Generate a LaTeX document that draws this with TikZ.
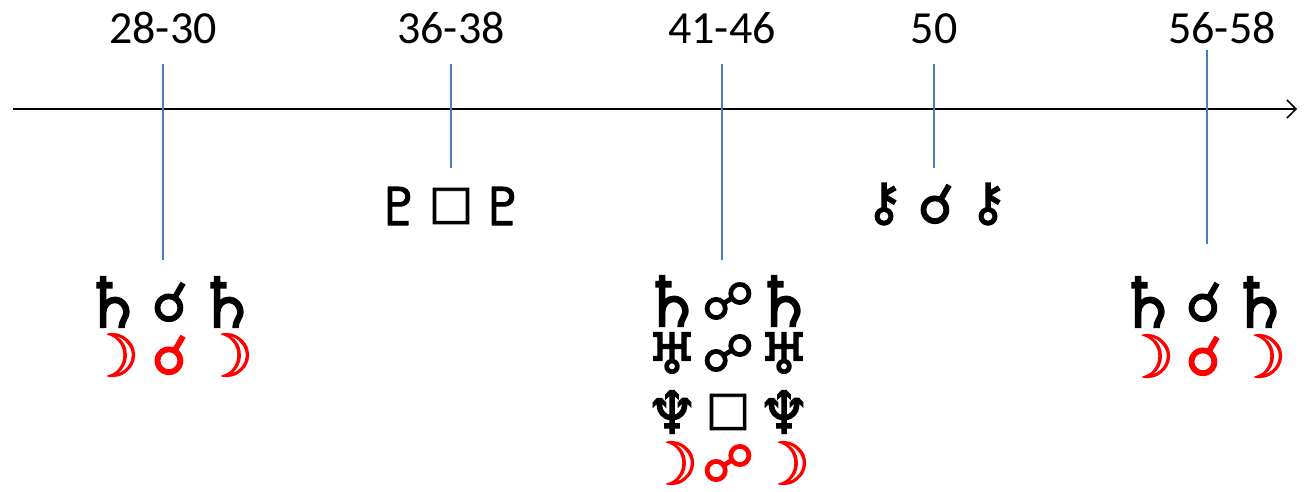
\documentclass[tikz,border=0pt]{standalone}
\usepackage{fontspec}
\usepackage{graphicx}
\setmainfont{Carlito}
\newfontfamily\symf[FakeBold=2]{DejaVu Sans}
\usetikzlibrary{arrows.meta}
\definecolor{tickblue}{HTML}{4A7EBB}
\newcommand{\gl}[2]{$\vcenter{\hbox{\resizebox{!}{#1pt}{\symf #2}}}$}
\newcommand{\glyphrow}[4]{\makebox[#1pt]{#2}\makebox[#1pt]{#3}\makebox[#1pt]{#4}}
\newcommand{\gSat}{\gl{51}{♄}}
\newcommand{\gConj}{\gl{39}{☌}}
\newcommand{\gOppo}{\gl{37}{☍}}
\newcommand{\gMoon}{\gl{43}{☽}}
\newcommand{\gUra}{\gl{41}{♅}}
\newcommand{\gNep}{\gl{43}{♆}}
\newcommand{\gPlu}{\gl{38}{♇}}
\newcommand{\gSqr}{\gl{30}{□}}
\newcommand{\gChir}{\gl{37}{⚷}}
\tikzset{
  axisline/.style={line width=1.6pt, -{Straight Barb[length=9pt,width=18pt,line width=1.6pt]}},
  tick/.style={draw=tickblue, line width=1.3pt},
  agelabel/.style={font=\fontsize{46}{50}\selectfont, inner sep=0pt, anchor=base},
  symrow/.style={inner sep=0pt},
  moonrow/.style={symrow, text=red},
}
\begin{document}
\begin{tikzpicture}[x=1pt,y=-1pt]
\useasboundingbox (0,0) rectangle (1305,491);
% axis
\coordinate (a0) at (13,109);
\coordinate (a1) at (1297,109);
\draw[axisline] (a0) -- (a1);
% ticks
\coordinate (t1a) at (163,64);  \coordinate (t1b) at (163,260);
\coordinate (t2a) at (451,64);  \coordinate (t2b) at (451,168);
\coordinate (t3a) at (722,64);  \coordinate (t3b) at (722,260);
\coordinate (t4a) at (934,64);  \coordinate (t4b) at (934,168);
\coordinate (t5a) at (1207,50); \coordinate (t5b) at (1207,244);
\draw[tick] (t1a) -- (t1b);
\draw[tick] (t2a) -- (t2b);
\draw[tick] (t3a) -- (t3b);
\draw[tick] (t4a) -- (t4b);
\draw[tick] (t5a) -- (t5b);
% age labels
\node[agelabel] (l1) at (163,43) {28-30};
\node[agelabel] (l2) at (451,43) {36-38};
\node[agelabel] (l3) at (722,43) {41-46};
\node[agelabel] (l4) at (934,43) {50};
\node[agelabel] (l5) at (1222,43) {56-58};
% 28-30
\node[symrow] (r1a) at (170,302) {\glyphrow{57}{\gSat}{\gConj}{\gSat}};
\node[moonrow] (r1b) at (170,355) {\glyphrow{57}{\gMoon}{\gConj}{\gMoon}};
% 36-38
\node[symrow] (r2a) at (451,206) {\glyphrow{52}{\gPlu}{\gSqr}{\gPlu}};
% 41-46
\node[symrow] (r3a) at (728,301) {\glyphrow{56}{\gSat}{\gOppo}{\gSat}};
\node[symrow] (r3b) at (728,353) {\glyphrow{56}{\gUra}{\gOppo}{\gUra}};
\node[symrow] (r3c) at (728,412) {\glyphrow{56}{\gNep}{\gSqr}{\gNep}};
\node[moonrow] (r3d) at (728,463) {\glyphrow{56}{\gMoon}{\gOppo}{\gMoon}};
% 50
\node[symrow] (r4a) at (936,204) {\glyphrow{52}{\gChir}{\gConj}{\gChir}};
% 56-58
\node[symrow] (r5a) at (1204,302) {\glyphrow{56}{\gSat}{\gConj}{\gSat}};
\node[moonrow] (r5b) at (1204,356) {\glyphrow{56}{\gMoon}{\gConj}{\gMoon}};
\end{tikzpicture}
\end{document}
